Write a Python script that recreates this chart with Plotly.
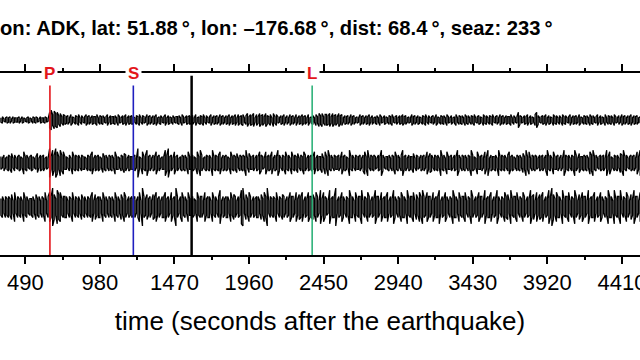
import plotly.graph_objects as go

# ---------------- data ----------------
station_title = "on: ADK, lat: 51.88\u2009°, lon: \u2013176.68\u2009°, dist: 68.4\u2009°, seaz: 233\u2009°"
x_title = "time (seconds after the earthquake)"

tick_step = 490          # major tick spacing (s)
minor_step = 245         # minor tick spacing (s)

phase_names = ["P", "S", "L"]
phase_times = [652, 1200, 2375]     # seconds after origin
phase_colors = ["#e3161b", "#1f1fbf", "#2fb27a"]
marker_time = 1583                   # black reference line

# sampled seismograms: start time, sample interval, half-range of the trace in each interval
t_start = 330
t_delta = 10

trace_top = ("2312323132" "2231321232" "1323213223" "21"
             "7958674635" "4"
             "3425324352" "4235342433" "5243423524" "3342532435" "2434"
             "3243524325" "3424352342" "3524324233" "42532434"
             "3425234352" "4235243425" "3424352435" "2534524635" "4625364536" "4352635324" "3524253425" "243534252"
             "3425364635" "5463645364" "5243425342" "3253424352" "4234253243"
             "2435234243" "5342325342" "4324352423" "4253243425" "3242352434"
             "2534243523" "4325342435" "2342534243" "3524237432" "4352432574"
             "2343524325" "3424253423" "5243425324" "3425342352" "4325243425"
             "3242534243" "5243423")

trace_mid = ("4353454635" "3454374534" "5434635453" "43"
             "9485974857" "4"
             "4353745453" "5443545735" "4543645354" "5374435465" "3544"
             "4539437458" "4535474534" "4859453745" "34545374"
             "4543748534" "5453845457" "3545437454" "6354548364" "4535475437" "4547354853" "5474537454" "635475354"
             "5473544637" "4845354453" "7454384535" "4453574835" "4543548534"
             "4535474535" "8453544635" "4354537465" "3545384537" "4453548535"
             "4535485437" "4453748354" "4538454535" "7454354536" "4847354543"
             "5453584537" "4453538545" "3548536445" "4537584534" "5453847435"
             "4536584534" "5453748")

trace_bot = ("4535454637" "3545374534" "4536453547" "35"
             "7596486745" "5"
             "5354735453" "6453545736" "4553745354" "5374536475" "3545"
             "4535739546" "4536574535" "5745374595" "35745374"
             "4543745537" "4553745358" "3545537465" "3548936475" "3545536475" "9354547354" "6535475537" "465735475"
             "5647538475" "4384559354" "7535485537" "4558354753" "5485537455"
             "7354853547" "5538455736" "4758547553" "7455835475" "3548553745"
             "5735485354" "7553845573" "5485354756" "3845573547" "5354856374"
             "6573548596" "4755384557" "3548536475" "5384557354" "7535485538"
             "4558354753" "6485537")

traces = [trace_top, trace_mid, trace_bot]

# ---------------- layout constants ----------------
W, H = 640, 360
M_TOP, M_BOT = 73, 105
PLOT_H = H - M_TOP - M_BOT           # 182 px
baselines = [135, 92, 48]            # px above the bottom axis
gains = [1.1, 1.6, 2.1]              # px per amplitude unit
x_range = [324, 4529]

FONT = "Liberation Sans, Arial, Helvetica, sans-serif"

fig = go.Figure()

for s, base, g in zip(traces, baselines, gains):
    xs, ys = [], []
    for i, c in enumerate(s):
        t = t_start + t_delta * i
        a = g * int(c)
        lo_hi = (base + a, base - a) if i % 2 == 0 else (base - a, base + a)
        xs += [t, t]
        ys += list(lo_hi)
    fig.add_trace(go.Scatter(x=xs, y=ys, mode="lines",
                             line=dict(color="black", width=1.3, simplify=False),
                             hoverinfo="skip", showlegend=False))

shapes = []
annotations = []
top_frac = (PLOT_H - 10) / PLOT_H
for name, tt, col in zip(phase_names, phase_times, phase_colors):
    shapes.append(dict(type="line", xref="x", yref="paper", x0=tt, x1=tt,
                       y0=0, y1=top_frac, line=dict(color=col, width=1.6)))
    annotations.append(dict(x=tt, y=1, xref="x", yref="paper", text=name,
                            showarrow=False, xanchor="center", yanchor="middle",
                            bgcolor="white", borderpad=2,
                            font=dict(family=FONT, size=17, color="#e3161b", weight="bold")))
shapes.append(dict(type="line", xref="x", yref="paper", x0=marker_time, x1=marker_time,
                   y0=0, y1=0.985, line=dict(color="black", width=2.5)))

fig.update_layout(
    width=W, height=H,
    margin=dict(l=0, r=0, t=M_TOP, b=M_BOT, autoexpand=False),
    paper_bgcolor="white", plot_bgcolor="white",
    title=dict(text=station_title, x=0, xref="container", xanchor="left",
               y=1 - 28 / H, yanchor="middle", automargin=False,
               font=dict(family=FONT, size=20.2, color="black", weight="bold")),
    shapes=shapes, annotations=annotations,
    xaxis=dict(range=x_range, tick0=0, dtick=tick_step, automargin=False,
               showgrid=False, zeroline=False,
               showline=True, linecolor="black", linewidth=1.6,
               mirror="ticks", ticks="outside", ticklen=7, tickwidth=1.6, tickcolor="black",
               minor=dict(dtick=minor_step, ticks="outside", ticklen=3, tickwidth=1.6,
                          tickcolor="black", showgrid=False),
               tickfont=dict(family=FONT, size=22, color="black"),
               ticklabeloverflow="allow",
               title=dict(text=x_title, standoff=18,
                          font=dict(family=FONT, size=26, color="black"))),
    yaxis=dict(range=[0, PLOT_H], visible=False, showgrid=False, zeroline=False,
               automargin=False),
)

fig.write_html("out.html", config={"displayModeBar": False},
               post_script="document.body.style.margin='0px';")
